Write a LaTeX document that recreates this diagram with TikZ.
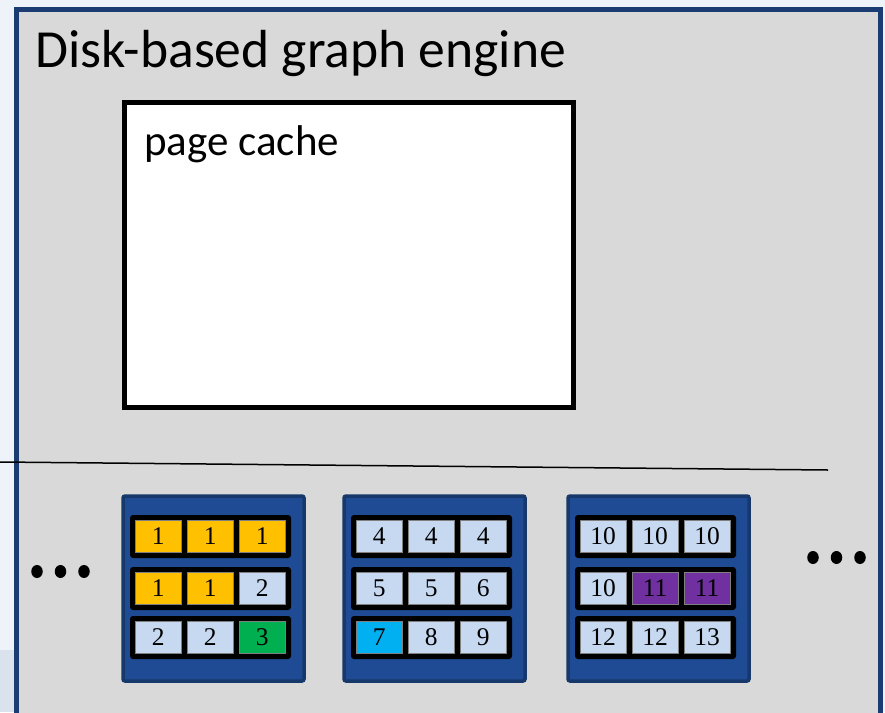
\documentclass[tikz,border=0pt]{standalone}
\usepackage{fontspec}
\usetikzlibrary{shapes.geometric}
\setmainfont{Carlito}
\newfontfamily\cellfont{Liberation Serif}

\definecolor{deskpane}{HTML}{EEF3F9}
\definecolor{deskshade}{HTML}{DAE2EE}
\definecolor{enginefill}{HTML}{D9D9D9}
\definecolor{engineedge}{HTML}{1B3C72}
\definecolor{diskfill}{HTML}{1E4B93}
\definecolor{diskedge}{HTML}{17386A}
\definecolor{cellblue}{HTML}{C6D9F1}
\definecolor{cellgold}{HTML}{FFC000}
\definecolor{cellgreen}{HTML}{00B050}
\definecolor{cellcyan}{HTML}{00B0F0}
\definecolor{cellpurple}{HTML}{7030A0}
\definecolor{celledge}{HTML}{7F7F7F}

% one row of three pages on a disk: name, x, y, then colour/label for each cell
\newcommand\diskrow[9]{%
  \node[rowframe] (#1) at (#2,#3) {};
  \node[cellbox, fill=#4] (#1a) at ([xshift=5pt,yshift=-5pt]#1.north west) {#5};
  \node[cellbox, fill=#6] (#1b) at ([xshift=57pt,yshift=-5pt]#1.north west) {#7};
  \node[cellbox, fill=#8] (#1c) at ([xshift=109pt,yshift=-5pt]#1.north west) {#9};
}

\begin{document}
\begin{tikzpicture}[x=1pt,y=-1pt,
  enginebox/.style={draw=engineedge, fill=enginefill, line width=5pt,
    minimum width=864pt, minimum height=740pt, anchor=north west,
    inner sep=0pt, outer sep=0pt},
  cachebox/.style={draw=black, fill=white, line width=5pt,
    minimum width=449pt, minimum height=305pt, anchor=north west,
    inner sep=0pt, outer sep=0pt},
  diskblock/.style={draw=diskedge, fill=diskfill, line width=3.5pt,
    rounded corners=2pt, minimum width=181pt, minimum height=185pt,
    anchor=north west, inner sep=0pt, outer sep=0pt},
  rowframe/.style={fill=black, rounded corners=3pt,
    minimum width=161pt, minimum height=43pt, anchor=north west,
    inner sep=0pt, outer sep=0pt},
  cellbox/.style={draw=celledge, line width=0.6pt,
    minimum width=46.4pt, minimum height=32.4pt, anchor=north west,
    inner sep=0pt, outer sep=0pt,
    font=\cellfont\fontsize{25.5}{25.5}\selectfont},
  bigtext/.style={anchor=base west, inner sep=0pt,
    font=\fontsize{53.6}{60}\selectfont},
  midtext/.style={anchor=base west, inner sep=0pt,
    font=\fontsize{43}{48}\selectfont},
  dot/.style={fill=black, ellipse, minimum width=11.5pt, minimum height=13pt,
    inner sep=0pt}
]
\useasboundingbox (0,0) rectangle (885,712);
\clip (0,0) rectangle (885,712);

% desktop behind the window
\fill[deskpane] (0,0) rectangle (885,712);
\fill[deskshade] (0,650) rectangle (16,712);

% the engine window
\node[enginebox] (engine) at (16.5,9) {};
\node[bigtext] (title) at (35,67) {Disk-based graph engine};

% page cache in memory
\node[cachebox] (cache) at (124.5,102.5) {};
\node[midtext] (cachelabel) at (144,155) {page cache};

% memory / disk boundary
\coordinate (splitL) at (0,462);
\coordinate (splitR) at (828,470);
\draw[line width=1.5pt, black] (splitL) -- (splitR);

% disks
\node[diskblock] (diskA) at (123,496) {};
\node[diskblock] (diskB) at (344,496) {};
\node[diskblock] (diskC) at (568,496) {};

\diskrow{aA}{130}{515}{cellgold}{1}{cellgold}{1}{cellgold}{1}
\diskrow{aB}{130}{567}{cellgold}{1}{cellgold}{1}{cellblue}{2}
\diskrow{aC}{130}{616}{cellblue}{2}{cellblue}{2}{cellgreen}{3}

\diskrow{bA}{351}{515}{cellblue}{4}{cellblue}{4}{cellblue}{4}
\diskrow{bB}{351}{567}{cellblue}{5}{cellblue}{5}{cellblue}{6}
\diskrow{bC}{351}{616}{cellcyan}{7}{cellblue}{8}{cellblue}{9}

\diskrow{cA}{575}{515}{cellblue}{10}{cellblue}{10}{cellblue}{10}
\diskrow{cB}{575}{567}{cellblue}{10}{cellpurple}{11}{cellpurple}{11}
\diskrow{cC}{575}{616}{cellblue}{12}{cellblue}{12}{cellblue}{13}

% more disks on either side
\node[dot] (dl1) at (37,571.5) {};
\node[dot] (dl2) at (60.5,571.5) {};
\node[dot] (dl3) at (84,571.5) {};
\node[dot] (dr1) at (813,557.5) {};
\node[dot] (dr2) at (836.5,557.5) {};
\node[dot] (dr3) at (860,557.5) {};
\end{tikzpicture}
\end{document}
